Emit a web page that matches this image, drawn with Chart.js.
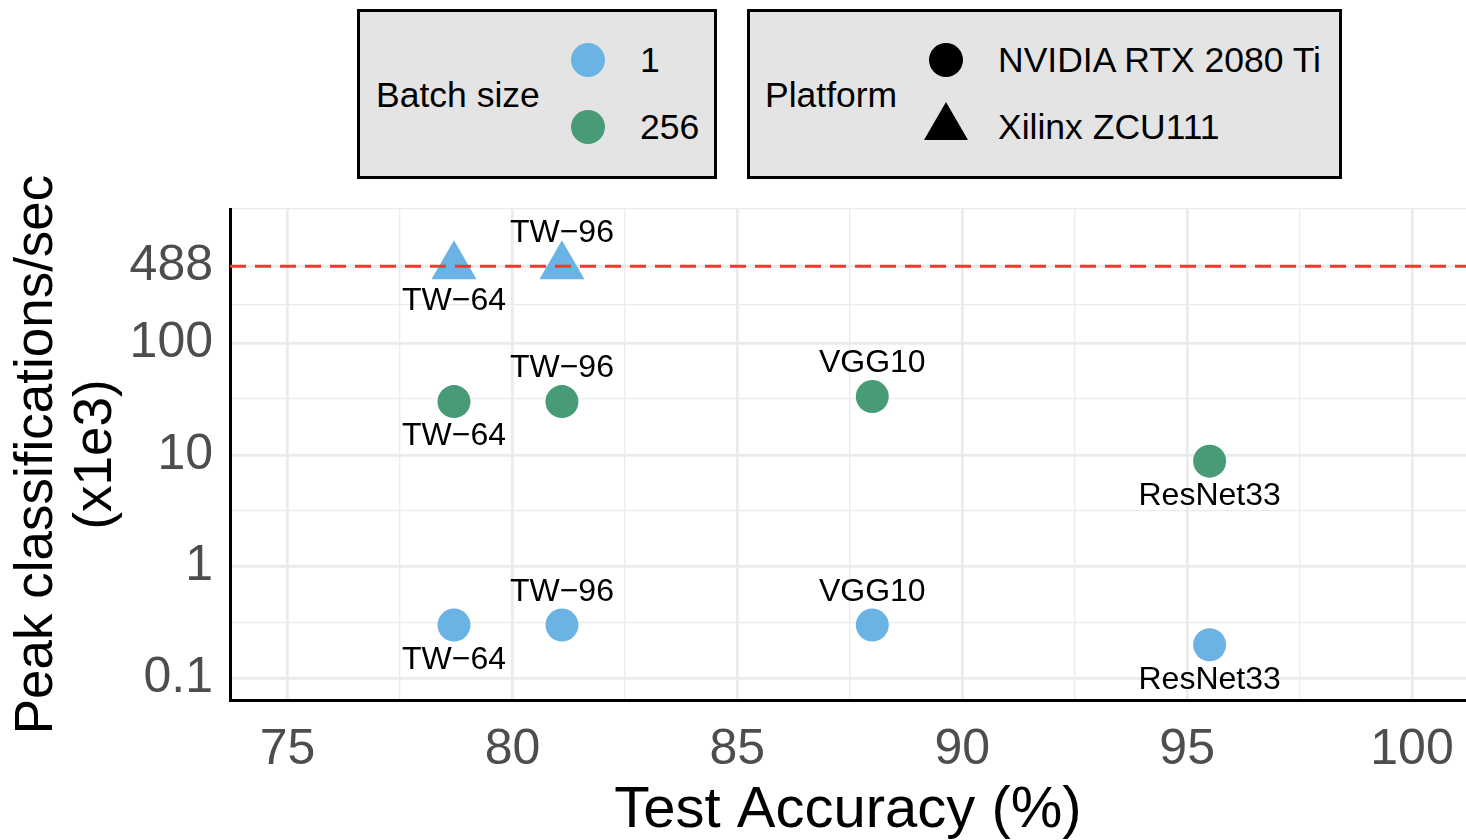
<!DOCTYPE html>
<html>
<head>
<meta charset="utf-8">
<script src="https://cdn.jsdelivr.net/npm/chart.js@4.4.1/dist/chart.umd.min.js"></script>
<style>
  html, body { margin: 0; padding: 0; background: #fff; }
  #wrap { position: relative; width: 1466px; height: 840px; font-family: "Liberation Sans", Arial, Helvetica, sans-serif; }
  #chart { position: absolute; left: 0; top: 0; }
  .lg-box { position: absolute; box-sizing: border-box; border: 3px solid #000; background: #e4e4e4; }
  .lg-text { position: absolute; font-size: 35.5px; line-height: 40px; color: #000; transform: translateY(-50%); white-space: nowrap; }
  .lg-dot { position: absolute; width: 34px; height: 34px; border-radius: 50%; transform: translate(-50%, -50%); }
  .lg-tri { position: absolute; transform: translate(-50%, -50%); }
</style>
</head>
<body>
<div id="wrap">
  <canvas id="chart" width="1466" height="840"></canvas>
  <div id="legends"></div>
</div>
<script>
// data
const models = ['TW\u221264', 'TW\u221296', 'VGG10', 'ResNet33'];
const gpuAccuracy = [78.7, 81.1, 88.0, 95.5];
const gpuBatch1 = [0.30, 0.30, 0.30, 0.20];
const gpuBatch256 = [30, 30, 33.3, 8.8];
const gpuBatch1Sides = ['below', 'above', 'above', 'below'];
const gpuBatch256Sides = ['below', 'above', 'above', 'below'];

const fpgaModels = ['TW\u221264', 'TW\u221296'];
const fpgaAccuracy = [78.7, 81.1];
const fpgaBatch1 = [488, 488];
const fpgaSides = ['below', 'above'];

const peakRate = 488;

const xRange = [73.72, 101.2];
const yRange = [0.064, 1590];
const xMajorTicks = [75, 80, 85, 90, 95, 100];
const xMinorTicks = [77.5, 82.5, 87.5, 92.5, 97.5];
const yMajorTicks = [0.1, 1, 10, 100, 488];
const yMinorTicks = [0.316, 3.16, 31.6, 221, 1590];

const batchSizes = ['1', '256'];
const platforms = ['NVIDIA RTX 2080 Ti', 'Xilinx ZCU111'];

const blue = '#6bb3e4';
const green = '#479b77';
const batchColors = [blue, green];

// legends (html)
function buildLegends() {
    const el = document.getElementById('legends');
    let html = '';
    html += '<div class="lg-box" style="left:357px;top:9px;width:360px;height:170px"></div>';
    html += '<div class="lg-text" style="left:376px;top:95px">Batch size</div>';
    batchSizes.forEach(function (b, i) {
        const y = 60 + i * 67;
        html += '<div class="lg-dot" style="left:588px;top:' + y + 'px;background:' + batchColors[i] + '"></div>';
        html += '<div class="lg-text" style="left:640px;top:' + y + 'px">' + b + '</div>';
    });
    html += '<div class="lg-box" style="left:747px;top:9px;width:595px;height:170px"></div>';
    html += '<div class="lg-text" style="left:765px;top:95px">Platform</div>';
    html += '<div class="lg-dot" style="left:946px;top:60px;background:#000"></div>';
    html += '<svg class="lg-tri" style="left:946px;top:121px" width="46" height="40"><polygon points="23,1 45,39 1,39" fill="#000"/></svg>';
    platforms.forEach(function (p, i) {
        html += '<div class="lg-text" style="left:998px;top:' + (60 + i * 67) + 'px">' + p + '</div>';
    });
    el.innerHTML = html;
}
buildLegends();

const pointLabelPlugin = {
    id: 'pointLabels',
    afterDatasetsDraw(chart) {
        const ctx = chart.ctx;
        ctx.save();
        ctx.font = '32px "Liberation Sans", Arial, sans-serif';
        ctx.fillStyle = '#000';
        ctx.textAlign = 'center';
        ctx.textBaseline = 'middle';
        chart.data.datasets.forEach(function (ds, i) {
            if (!ds.pointLabels) return;
            chart.getDatasetMeta(i).data.forEach(function (pt, j) {
                const dy = ds.labelSides[j] === 'above' ? -33 : 35;
                ctx.fillText(ds.pointLabels[j], pt.x, pt.y + dy);
            });
        });
        ctx.restore();
    }
};

function toPoints(xs, ys) {
    return xs.map(function (x, i) { return { x: x, y: ys[i] }; });
}

Chart.defaults.font.family = '"Liberation Sans", Arial, Helvetica, sans-serif';

const ctx = document.getElementById('chart').getContext('2d');
new Chart(ctx, {
    type: 'scatter',
    data: {
        datasets: [
            {
                type: 'line',
                label: 'Peak',
                data: [{ x: xRange[0], y: peakRate }, { x: xRange[1], y: peakRate }],
                borderColor: '#ee3b2f',
                borderWidth: 3,
                borderDash: [16, 9],
                pointRadius: 0,
                order: 0
            },
            {
                label: 'Xilinx ZCU111, batch 1',
                data: toPoints(fpgaAccuracy, fpgaBatch1),
                pointStyle: 'triangle',
                pointRadius: 26,
                borderWidth: 0,
                backgroundColor: blue,
                pointLabels: fpgaModels,
                labelSides: fpgaSides,
                order: 1
            },
            {
                label: 'NVIDIA RTX 2080 Ti, batch 256',
                data: toPoints(gpuAccuracy, gpuBatch256),
                pointStyle: 'circle',
                pointRadius: 16.5,
                borderWidth: 0,
                backgroundColor: green,
                pointLabels: models,
                labelSides: gpuBatch256Sides,
                order: 1
            },
            {
                label: 'NVIDIA RTX 2080 Ti, batch 1',
                data: toPoints(gpuAccuracy, gpuBatch1),
                pointStyle: 'circle',
                pointRadius: 16.5,
                borderWidth: 0,
                backgroundColor: blue,
                pointLabels: models,
                labelSides: gpuBatch1Sides,
                order: 1
            }
        ]
    },
    options: {
        responsive: false,
        animation: false,
        devicePixelRatio: 1,
        layout: { autoPadding: false, padding: { top: 209, left: 0, right: 0, bottom: 0 } },
        plugins: {
            legend: { display: false },
            tooltip: { enabled: false }
        },
        scales: {
            x: {
                type: 'linear',
                min: xRange[0],
                max: xRange[1],
                afterBuildTicks: function (scale) {
                    scale.ticks = xMajorTicks.concat(xMinorTicks).sort(function (a, b) { return a - b; })
                        .map(function (v) { return { value: v }; });
                },
                afterFit: function (scale) {
                    scale.height = 140;
                    scale.paddingLeft = 0;
                    scale.paddingRight = 0;
                },
                ticks: {
                    autoSkip: false,
                    maxRotation: 0,
                    padding: 20,
                    color: '#4d4d4d',
                    font: { size: 50 },
                    callback: function (val) { return xMajorTicks.includes(val) ? String(val) : ''; }
                },
                grid: {
                    drawTicks: false,
                    color: '#ebebeb',
                    lineWidth: function (c) { return xMajorTicks.includes(c.tick.value) ? 2.7 : 1.3; }
                },
                border: { display: true, color: '#000', width: 3 },
                title: {
                    display: true,
                    text: 'Test Accuracy (%)',
                    color: '#000',
                    font: { size: 58, lineHeight: 1 },
                    padding: { top: 0, bottom: 0 }
                }
            },
            y: {
                type: 'logarithmic',
                min: yRange[0],
                max: yRange[1],
                afterBuildTicks: function (scale) {
                    scale.ticks = yMajorTicks.concat(yMinorTicks).sort(function (a, b) { return a - b; })
                        .map(function (v) { return { value: v }; });
                },
                afterFit: function (scale) {
                    scale.width = 230;
                    scale.paddingTop = 0;
                    scale.paddingBottom = 0;
                },
                ticks: {
                    autoSkip: false,
                    padding: 17,
                    color: '#4d4d4d',
                    font: { size: 50 },
                    callback: function (val) { return yMajorTicks.includes(val) ? String(val) : ''; }
                },
                grid: {
                    drawTicks: false,
                    color: '#ebebeb',
                    lineWidth: function (c) { return yMajorTicks.includes(c.tick.value) ? 2.7 : 1.3; }
                },
                border: { display: true, color: '#000', width: 3 },
                title: {
                    display: true,
                    text: ['Peak classifications/sec', '(x1e3)'],
                    color: '#000',
                    font: { size: 53, lineHeight: 1.13 },
                    padding: { top: 7, bottom: 0 }
                }
            }
        }
    },
    plugins: [pointLabelPlugin]
});
</script>
</body>
</html>
